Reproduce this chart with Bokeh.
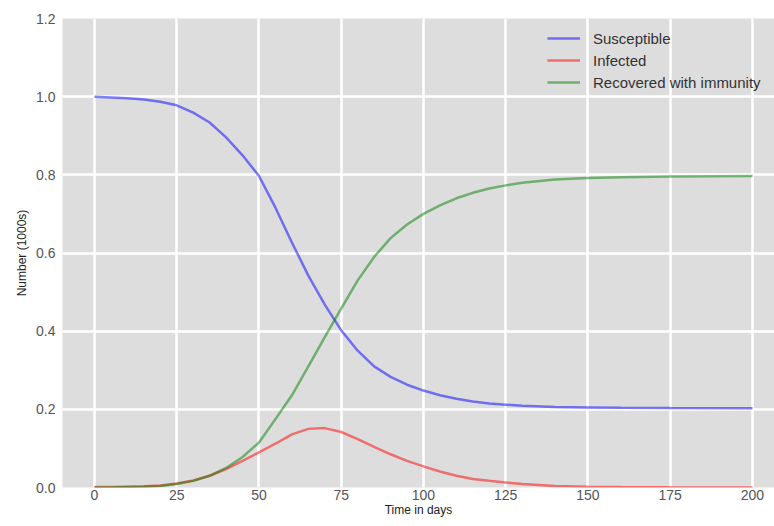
from bokeh.plotting import figure
from bokeh.models import Legend, LegendItem, FixedTicker
from bokeh.embed import file_html
from bokeh.resources import INLINE

# Data (time in days, values in 1000s)
t = [0, 5, 10, 15, 20, 25, 30, 35, 40, 45, 50, 55, 60, 65, 70, 75, 80, 85, 90,
     95, 100, 105, 110, 115, 120, 125, 130, 140, 150, 160, 175, 200]
susceptible = [1.000, 0.998, 0.996, 0.993, 0.987, 0.978, 0.959, 0.934, 0.896, 0.850,
               0.797, 0.716, 0.627, 0.542, 0.468, 0.402, 0.350, 0.310, 0.283, 0.263,
               0.248, 0.236, 0.227, 0.220, 0.215, 0.212, 0.209, 0.206, 0.205, 0.204,
               0.2035, 0.203]
infected = [0.001, 0.001, 0.002, 0.003, 0.005, 0.010, 0.018, 0.030, 0.047, 0.068,
            0.090, 0.112, 0.136, 0.150, 0.152, 0.142, 0.124, 0.104, 0.085, 0.068,
            0.054, 0.041, 0.030, 0.022, 0.017, 0.013, 0.009, 0.004, 0.002, 0.001,
            0.0005, 0.0]
recovered = [0.000, 0.000, 0.001, 0.002, 0.004, 0.009, 0.017, 0.030, 0.050, 0.078,
             0.115, 0.175, 0.236, 0.310, 0.385, 0.458, 0.530, 0.590, 0.638, 0.673,
             0.700, 0.722, 0.740, 0.754, 0.765, 0.773, 0.780, 0.788, 0.792, 0.794,
             0.796, 0.797]
x_ticks = [0, 25, 50, 75, 100, 125, 150, 175, 200]
y_ticks = [0.0, 0.2, 0.4, 0.6, 0.8, 1.0, 1.2]
labels = ["Susceptible", "Infected", "Recovered with immunity"]

FONT = "Liberation Sans"

p = figure(width=774, height=526, output_backend="svg", toolbar_location=None,
           x_range=(-9.73, 206.7), y_range=(0, 1.2),
           min_border_left=62, min_border_right=0, min_border_top=18,
           min_border_bottom=39)
p.background_fill_color = "#dddddd"
p.border_fill_color = "white"
p.outline_line_color = None

for ax in (p.xaxis[0], p.yaxis[0]):
    ax.axis_line_color = None
    ax.major_tick_line_color = None
    ax.minor_tick_line_color = None
    ax.major_tick_out = 0
    ax.major_tick_in = 0
    ax.major_label_text_font = FONT
    ax.major_label_text_font_size = "14px"
    ax.major_label_text_color = "#555555"
    ax.axis_label_text_font = FONT
    ax.axis_label_text_font_size = "12px"
    ax.axis_label_text_font_style = "normal"
    ax.axis_label_text_color = "#222222"

p.xaxis.ticker = FixedTicker(ticks=x_ticks)
p.yaxis.ticker = FixedTicker(ticks=y_ticks)
p.yaxis.major_label_overrides = {v: f"{v:.1f}" for v in y_ticks}
p.xaxis.axis_label = "Time in days"
p.yaxis.axis_label = "Number (1000s)"
p.xaxis.major_label_standoff = 2
p.yaxis.major_label_standoff = 7
p.xaxis.axis_label_standoff = 0
p.yaxis.axis_label_standoff = 4

p.xgrid.ticker = FixedTicker(ticks=x_ticks)
p.ygrid.ticker = FixedTicker(ticks=y_ticks)
for g in (p.xgrid[0], p.ygrid[0]):
    g.grid_line_color = "white"
    g.grid_line_width = 2.5

r_s = p.line(t, susceptible, line_color="blue", line_alpha=0.5, line_width=2.5)
r_i = p.line(t, infected, line_color="red", line_alpha=0.5, line_width=2.5)
r_r = p.line(t, recovered, line_color="#008000", line_alpha=0.5, line_width=2.5)

legend = Legend(items=[LegendItem(label=labels[0], renderers=[r_s]),
                       LegendItem(label=labels[1], renderers=[r_i]),
                       LegendItem(label=labels[2], renderers=[r_r])],
                location=(485, 395))
legend.background_fill_alpha = 0
legend.border_line_color = None
legend.padding = 0
legend.margin = 0
legend.spacing = 2
legend.glyph_width = 33
legend.glyph_height = 20
legend.label_height = 20
legend.label_standoff = 13
legend.label_text_font = FONT
legend.label_text_font_size = "15px"
legend.label_text_color = "#333333"
p.add_layout(legend, "center")

open("out.html", "w").write(file_html(p, INLINE))
